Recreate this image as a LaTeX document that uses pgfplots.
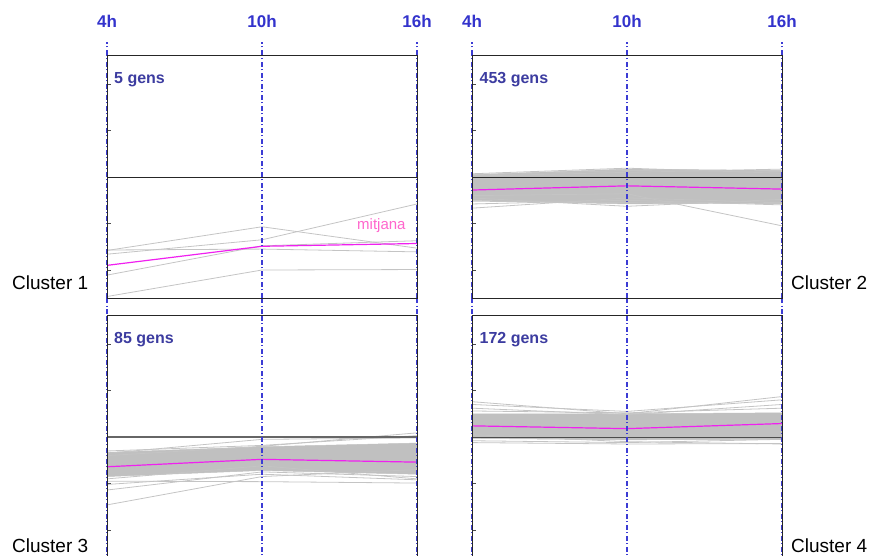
\documentclass[border=0pt]{standalone}
\usepackage{fontspec}
\setmainfont{Liberation Sans}
\usepackage{pgfplots}
\pgfplotsset{compat=1.18}
\definecolor{tickblue}{HTML}{3333CC}
\definecolor{gridblue}{HTML}{3C3CD4}
\definecolor{gensblue}{HTML}{3C3CA0}
\definecolor{bandgray}{HTML}{C0C0C0}
\definecolor{linegray}{HTML}{C4C4C4}
\definecolor{meanmag}{HTML}{F020F0}
\definecolor{mitpink}{HTML}{FF66CC}
\tikzset{gens/.style={anchor=west, inner sep=0pt, text=gensblue, font=\bfseries\fontsize{16}{19}\selectfont}}
\pgfplotsset{
  clus/.style={
    scale only axis, width=310pt, xmin=0, xmax=2,
    xtick={0,1,2}, xticklabels={},
    xmajorgrids,
    grid style={gridblue, line width=1.2pt, dash pattern=on 5pt off 2.5pt on 1pt off 2.5pt},
    x tick style={draw=none},
    ytick={-2,-1,1,2}, yticklabels={}, ytick pos=left, tick align=inside,
    major tick length=4pt, y tick style={black!70, line width=0.9pt},
    axis line style={black!85, line width=0.9pt},
    axis on top, clip=false,
  },
  toppanel/.style={clus, height=243pt, ymin=-2.602, ymax=2.624,
    xticklabels={4h,10h,16h}, xticklabel pos=upper,
    xticklabel style={text=tickblue, font=\bfseries\fontsize{17}{20}\selectfont, yshift=23.5pt}},
  botpanel/.style={clus, height=247.57pt, ymin=-2.7, ymax=2.624},
  gl/.style={linegray, line width=0.8pt},
  band/.style={fill=bandgray, draw=bandgray, line width=0.5pt},
  zl/.style={black!85, line width=0.9pt},
  ml/.style={meanmag, line width=1.2pt},
}
\newcommand{\vsegs}{%
  \draw[gridblue, line width=1.2pt, dash pattern=on 5pt off 2.5pt on 1pt off 2.5pt]
    (rel axis cs:0,1) -- ++(0pt,13pt) (rel axis cs:0.5,1) -- ++(0pt,13pt) (rel axis cs:1,1) -- ++(0pt,13pt)
    (rel axis cs:0,0) -- ++(0pt,-17pt) (rel axis cs:0.5,0) -- ++(0pt,-17pt) (rel axis cs:1,0) -- ++(0pt,-17pt);}
\begin{document}
\begin{tikzpicture}
\useasboundingbox (0,0) rectangle (872pt,555pt);
% ---------------- Cluster 1
\begin{axis}[toppanel, at={(107pt,257pt)}, anchor=south west]
\addplot[gl] coordinates {(0,-1.58) (1,-1.07) (2,-1.53)};
\addplot[gl] coordinates {(0,-1.66) (1,-1.35) (2,-0.58)};
\addplot[gl] coordinates {(0,-1.57) (1,-1.55) (2,-1.61)};
\addplot[gl] coordinates {(0,-2.11) (1,-1.48) (2,-1.37)};
\addplot[gl] coordinates {(0,-2.57) (1,-2.00) (2,-1.99)};
\addplot[zl] coordinates {(0,0) (2,0)};
\addplot[ml] coordinates {(0,-1.90) (1,-1.49) (2,-1.43)};
\node[text=mitpink, font=\fontsize{15}{18}\selectfont] at (axis cs:1.77,-1.05) {mitjana};
\node[gens, xshift=7pt, yshift=-25pt] at (rel axis cs:0,1) {5 gens};
\vsegs
\end{axis}
% ---------------- Cluster 2
\begin{axis}[toppanel, at={(472pt,257pt)}, anchor=south west]
\addplot[band] coordinates {(0,0.05) (1,0.17) (2,0.14) (2,-0.55) (1,-0.58) (0,-0.50)} -- cycle;
\addplot[gl] coordinates {(0,0.07) (1,0.19) (2,0.08)};
\addplot[gl] coordinates {(0,0.02) (1,0.10) (2,0.17)};
\addplot[gl] coordinates {(0,0.04) (1,0.14) (2,0.12)};
\addplot[gl] coordinates {(0,-0.67) (1,-0.45) (2,-0.55)};
\addplot[gl] coordinates {(0,-0.45) (1,-0.63) (2,-0.48)};
\addplot[gl] coordinates {(0,-0.58) (1,-0.50) (2,-0.60)};
\addplot[gl] coordinates {(0,-0.40) (1,-0.36) (2,-1.05)};
\addplot[gl] coordinates {(0,-0.52) (1,-0.55) (2,-0.57)};
\addplot[zl] coordinates {(0,0) (2,0)};
\addplot[ml] coordinates {(0,-0.28) (1,-0.19) (2,-0.26)};
\node[gens, xshift=7.5pt, yshift=-25pt] at (rel axis cs:0,1) {453 gens};
\vsegs
\end{axis}
% ---------------- Cluster 3
\begin{axis}[botpanel, at={(107pt,-7.57pt)}, anchor=south west]
\addplot[band] coordinates {(0,-0.33) (1,-0.21) (2,-0.13) (2,-0.80) (1,-0.72) (0,-0.85)} -- cycle;
\addplot[gl] coordinates {(0,-0.35) (1,-0.05) (2,-0.02)};
\addplot[gl] coordinates {(0,-0.40) (1,-0.20) (2,0.09)};
\addplot[gl] coordinates {(0,-0.30) (1,-0.18) (2,0.03)};
\addplot[gl] coordinates {(0,-1.14) (1,-0.75) (2,-0.85)};
\addplot[gl] coordinates {(0,-1.46) (1,-0.85) (2,-0.70)};
\addplot[gl] coordinates {(0,-0.95) (1,-0.96) (2,-0.99)};
\addplot[gl] coordinates {(0,-1.02) (1,-0.80) (2,-0.92)};
\addplot[gl] coordinates {(0,-0.90) (1,-0.62) (2,-0.90)};
\addplot[zl, black!60, line width=1.2pt] coordinates {(0,0) (2,0)};
\addplot[ml] coordinates {(0,-0.64) (1,-0.48) (2,-0.54)};
\node[gens, xshift=7pt, yshift=-25pt] at (rel axis cs:0,1) {85 gens};
\end{axis}
% ---------------- Cluster 4
\begin{axis}[botpanel, at={(472pt,-7.57pt)}, anchor=south west]
\addplot[band] coordinates {(0,0.50) (1,0.50) (2,0.52) (2,-0.05) (1,-0.06) (0,-0.03)} -- cycle;
\addplot[gl] coordinates {(0,0.76) (1,0.50) (2,0.87)};
\addplot[gl] coordinates {(0,0.70) (1,0.55) (2,0.80)};
\addplot[gl] coordinates {(0,0.62) (1,0.48) (2,0.70)};
\addplot[gl] coordinates {(0,0.56) (1,0.52) (2,0.62)};
\addplot[gl] coordinates {(0,-0.12) (1,-0.15) (2,-0.14)};
\addplot[gl] coordinates {(0,-0.08) (1,-0.12) (2,-0.05)};
\addplot[gl] coordinates {(0,0.05) (1,-0.10) (2,-0.15)};
\addplot[zl, black!70] coordinates {(0,0) (2,0)};
\addplot[ml] coordinates {(0,0.24) (1,0.18) (2,0.29)};
\node[gens, xshift=7.5pt, yshift=-25pt] at (rel axis cs:0,1) {172 gens};
\end{axis}
% ---------------- cluster names
\node[anchor=base west, inner sep=0pt, font=\fontsize{19}{22}\selectfont] at (12pt,265.5pt) {Cluster 1};
\node[anchor=base west, inner sep=0pt, font=\fontsize{19}{22}\selectfont] at (791pt,265.5pt) {Cluster 2};
\node[anchor=base west, inner sep=0pt, font=\fontsize{19}{22}\selectfont] at (12pt,3pt) {Cluster 3};
\node[anchor=base west, inner sep=0pt, font=\fontsize{19}{22}\selectfont] at (791pt,3pt) {Cluster 4};
\end{tikzpicture}
\end{document}
